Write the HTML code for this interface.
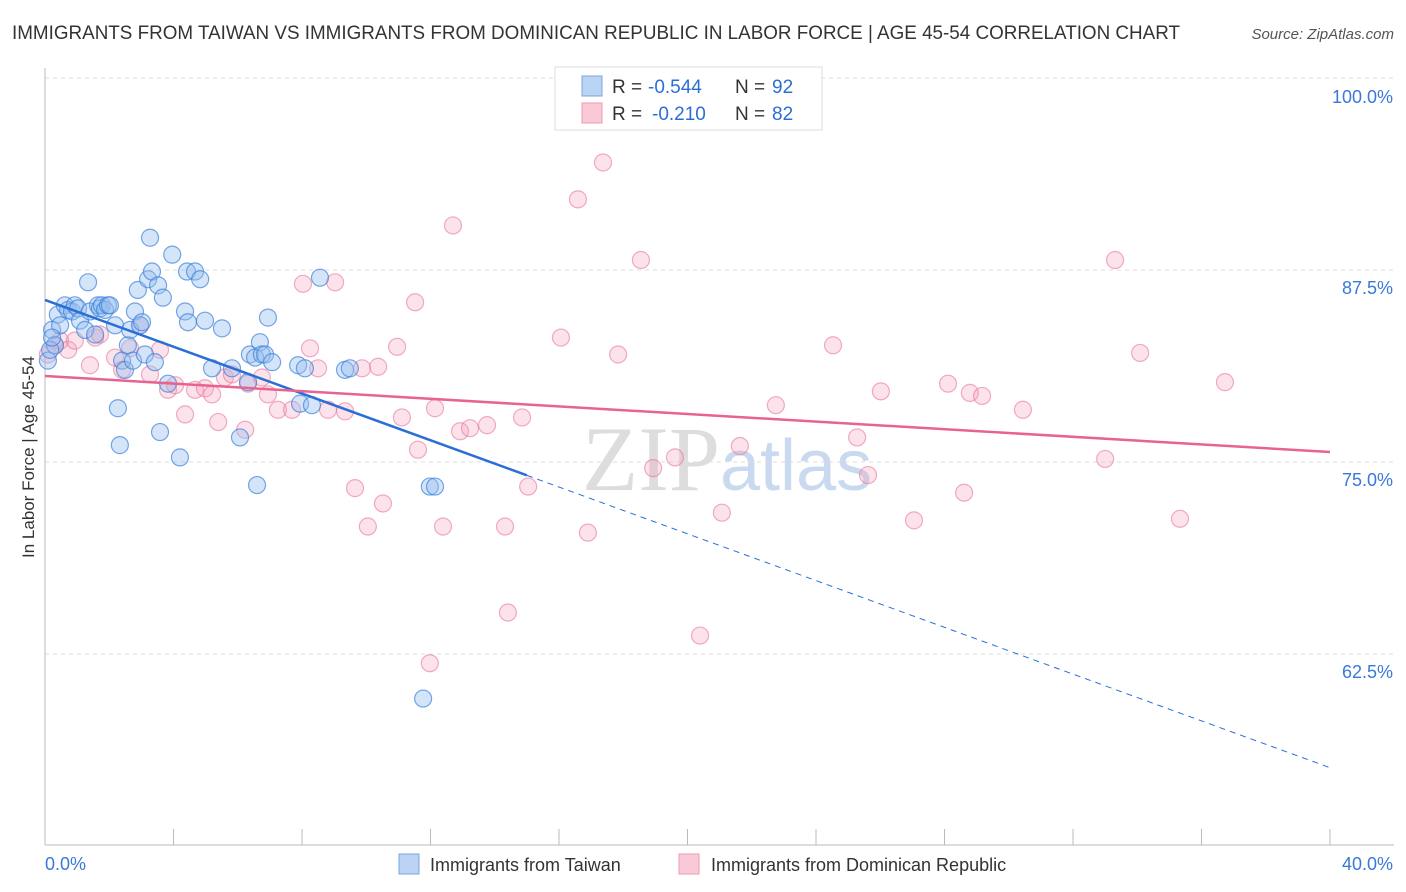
<!DOCTYPE html>
<html><head><meta charset="utf-8">
<style>
body{margin:0;background:#fff;font-family:"Liberation Sans",sans-serif;}
#wrap{position:relative;width:1406px;height:892px;overflow:hidden;}
</style></head>
<body>
<div id="wrap">
<svg id="chart" width="1406" height="892" style="position:absolute;left:0;top:0">
<text x="12" y="39" font-size="19" fill="#333" textLength="1168" lengthAdjust="spacingAndGlyphs">IMMIGRANTS FROM TAIWAN VS IMMIGRANTS FROM DOMINICAN REPUBLIC IN LABOR FORCE | AGE 45-54 CORRELATION CHART</text>
<text x="1394" y="39" font-size="15" fill="#555" font-style="italic" text-anchor="end">Source: ZipAtlas.com</text>
<text x="720" y="490" font-size="92" fill="#ddd" text-anchor="end" font-family="Liberation Serif,serif">ZIP</text>
<text x="720" y="490" font-size="72" fill="#c9d9ef">atlas</text>
<g id="grid"></g>
<g id="axes"></g>
<g id="pts"></g>
<g id="trend"></g>
<text transform="translate(34,457) rotate(-90)" font-size="17" fill="#333" text-anchor="middle">In Labor Force | Age 45-54</text>
<g>
<rect x="555" y="67" width="267" height="63" fill="#fff" stroke="#ddd"/>
<rect x="582" y="76" width="20" height="20" fill="#bcd4f4" stroke="#7aa5e0"/>
<rect x="582" y="103" width="20" height="20" fill="#f9c9d7" stroke="#ee9ab3"/>
<text x="612" y="93" font-size="19" fill="#333">R =</text>
<text x="648" y="93" font-size="19" fill="#2b6fd6">-0.544</text>
<text x="735" y="93" font-size="19" fill="#333">N =</text>
<text x="772" y="93" font-size="19" fill="#2b6fd6">92</text>
<text x="612" y="120" font-size="19" fill="#333">R =</text>
<text x="652" y="120" font-size="19" fill="#2b6fd6">-0.210</text>
<text x="735" y="120" font-size="19" fill="#333">N =</text>
<text x="772" y="120" font-size="19" fill="#2b6fd6">82</text>
</g>
<g>
<rect x="399" y="854" width="20" height="20" fill="#bcd4f4" stroke="#7aa5e0"/>
<text x="430" y="871" font-size="18" fill="#333">Immigrants from Taiwan</text>
<rect x="679" y="854" width="20" height="20" fill="#f9c9d7" stroke="#ee9ab3"/>
<text x="711" y="871" font-size="18" fill="#333">Immigrants from Dominican Republic</text>
</g>
</svg>
</div>
<script>
const xTicks=[0,4,8,12,16,20,24,28,32,36,40];
const yTicks=[62.5,75,87.5,100];
const yTickLabels=["62.5%","75.0%","87.5%","100.0%"];
const taiwanX=[0.22,0.31,0.40,0.47,0.62,0.72,0.84,0.93,1.03,1.09,1.25,1.34,1.40,1.56,1.65,1.71,1.77,1.87,1.96,2.02,2.18,2.27,2.33,2.40,2.49,2.58,2.65,2.74,2.80,2.89,2.96,3.02,3.11,3.21,3.27,3.33,3.42,3.52,3.58,3.67,3.83,3.96,4.20,4.36,4.42,4.45,4.67,4.83,4.98,5.20,5.51,5.82,6.07,6.32,6.38,6.54,6.60,6.69,6.75,6.85,6.94,7.07,7.88,7.94,8.09,8.31,8.56,9.34,9.49,11.98,12.14,11.77,0.09,0.16,0.22];
const taiwanY=[83.6,82.6,84.6,83.9,85.2,84.9,84.8,85.2,85.0,84.2,83.6,86.7,84.8,83.3,85.2,85.0,85.2,84.9,85.2,85.2,83.9,78.5,76.1,81.6,81.0,82.6,83.6,81.6,84.8,86.2,83.9,84.1,82.0,86.9,89.6,87.4,81.5,86.5,76.95,85.7,80.1,88.5,75.3,84.8,87.4,84.1,87.4,86.9,84.2,81.1,83.7,81.1,76.6,80.2,82.0,81.8,73.5,82.8,82.0,82.0,84.4,81.5,81.3,78.8,81.1,78.7,87.0,81.0,81.1,73.4,73.4,59.6,81.6,82.3,83.1];
const domX=[0.09,0.31,0.47,0.72,0.93,1.40,1.56,1.71,2.18,2.40,2.65,2.96,3.27,3.58,3.83,4.05,4.36,4.67,4.98,5.20,5.39,5.60,5.82,6.23,6.32,6.75,6.94,7.25,7.69,8.03,8.25,8.50,8.81,9.03,9.34,9.65,9.87,10.05,10.37,10.52,10.96,11.11,11.52,11.61,11.98,12.14,12.39,12.70,12.92,13.23,13.76,14.32,14.41,14.85,15.04,16.06,16.59,16.90,17.37,17.84,18.55,18.93,19.61,20.39,21.07,21.63,22.75,24.53,25.28,25.62,26.02,27.05,28.11,28.61,28.79,29.17,30.44,33.00,33.31,34.09,35.33,36.73];
const domY=[82.0,82.6,82.9,82.3,82.9,81.3,83.1,83.3,81.8,81.0,82.4,83.9,80.7,82.3,79.7,80.0,78.1,79.7,79.8,79.4,77.6,80.5,80.7,77.1,80.1,80.5,79.4,78.4,78.4,86.6,82.4,81.1,78.4,86.7,78.3,73.3,81.1,70.8,81.2,72.3,82.5,77.9,85.4,75.8,61.9,78.5,70.8,90.4,77.0,77.2,77.4,70.8,65.2,77.9,73.4,83.1,92.1,70.4,94.5,82.0,88.15,74.6,75.3,63.7,71.7,76.04,78.7,82.6,76.6,74.15,79.6,71.2,80.1,73.0,79.5,79.3,78.4,75.2,88.15,82.1,71.3,80.2];
const taiwanTrend=[85.55,55.1];
const domTrend=[80.6,75.65];
const NS="http://www.w3.org/2000/svg";
const X0=45,X1=1330,Y100=78,PX_PER=15.36,BOTTOM=845;
function sx(v){return X0+(v/40)*(X1-X0);}
function sy(v){return Y100+(100-v)*PX_PER;}
function mk(tag,attrs,parent){const e=document.createElementNS(NS,tag);for(const k in attrs)e.setAttribute(k,attrs[k]);parent.appendChild(e);return e;}
const grid=document.getElementById('grid'),axes=document.getElementById('axes'),pts=document.getElementById('pts'),trend=document.getElementById('trend');
yTicks.forEach((t,i)=>{
 const l=mk('line',{x1:X0,x2:1394,y1:sy(t),y2:sy(t),stroke:'#ddd','stroke-dasharray':'4,4'},grid);
 
 
 const tx=mk('text',{x:1393,y:sy(t)+(t===100?25:24),'font-size':18,fill:'#3a78d8','text-anchor':'end'},axes);
 tx.textContent=yTickLabels[i];
 
 
});
const ya=mk('line',{x1:X0,x2:X0,y1:68,y2:BOTTOM,stroke:'#bbb'},axes);


const xa=mk('line',{x1:X0,x2:1394,y1:BOTTOM,y2:BOTTOM,stroke:'#bbb'},axes);


xTicks.forEach(t=>{
 const l=mk('line',{x1:sx(t),x2:sx(t),y1:829,y2:BOTTOM,stroke:'#bbb'},axes);
 
 
});
const xl0=mk('text',{x:45,y:870,'font-size':18,fill:'#3a78d8'},axes);xl0.textContent='0.0%';


const xl1=mk('text',{x:1393,y:870,'font-size':18,fill:'#3a78d8','text-anchor':'end'},axes);xl1.textContent='40.0%';


domX.forEach((x,i)=>{
 const c=mk('circle',{cx:sx(x),cy:sy(domY[i]),r:8.5,fill:'rgba(244,160,186,0.3)',stroke:'rgba(232,120,155,0.6)','stroke-width':1.2},pts);
 
 
});
taiwanX.forEach((x,i)=>{
 const c=mk('circle',{cx:sx(x),cy:sy(taiwanY[i]),r:8.5,fill:'rgba(150,190,240,0.4)',stroke:'rgba(60,130,220,0.7)','stroke-width':1.2},pts);
 
 
});
const split=15;
function ty(t){return taiwanTrend[0]+(taiwanTrend[1]-taiwanTrend[0])*t/40;}
const t1=mk('line',{x1:sx(0),y1:sy(ty(0)),x2:sx(split),y2:sy(ty(split)),stroke:'#2b6fd6','stroke-width':2.5},trend);


const t2=mk('line',{x1:sx(split),y1:sy(ty(split)),x2:sx(40),y2:sy(ty(40)),stroke:'#2b6fd6','stroke-width':1,'stroke-dasharray':'6,5'},trend);


const t3=mk('line',{x1:sx(0),y1:sy(domTrend[0]),x2:sx(40),y2:sy(domTrend[1]),stroke:'#e8638f','stroke-width':2.5},trend);


</script>
</body></html>
